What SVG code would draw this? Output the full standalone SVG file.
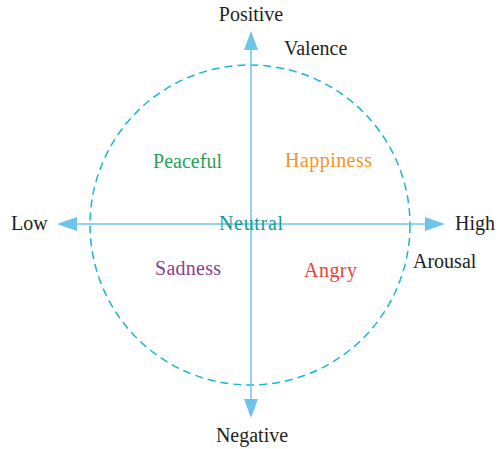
<svg xmlns="http://www.w3.org/2000/svg" width="500" height="449" viewBox="0 0 500 449">
<style>
text{font-family:"Liberation Serif","DejaVu Serif",serif;font-size:20px;}
.lbl{fill:#231f20;}
.axis{stroke:#6cc4ec;stroke-width:1.5;fill:none;}
.head{fill:#6cc4ec;}
</style>
<rect width="500" height="449" fill="#ffffff"/>
<g id="circle">
<circle cx="250" cy="225" r="160" fill="none" stroke="#1cb5d4" stroke-width="1.5" stroke-dasharray="8,5"/>
</g>
<g id="connectors">
<line class="axis" x1="251" y1="46" x2="251" y2="402"/>
<line class="axis" x1="72" y1="224" x2="430" y2="224"/>
<polygon class="head" points="251,31 244,50 258,50"/>
<polygon class="head" points="251,418 244,399 258,399"/>
<polygon class="head" points="57,224 77,217 77,231"/>
<polygon class="head" points="445,224 425,217 425,231"/>
</g>
<g id="positive"><text class="lbl" x="251" y="21" text-anchor="middle">Positive</text></g>
<g id="valence"><text class="lbl" x="284" y="55">Valence</text></g>
<g id="low"><text class="lbl" x="11" y="230">Low</text></g>
<g id="high"><text class="lbl" x="455" y="230">High</text></g>
<g id="arousal"><text class="lbl" x="413" y="268">Arousal</text></g>
<g id="negative"><text class="lbl" x="252" y="442" text-anchor="middle">Negative</text></g>
<g id="peaceful"><text x="153" y="168" fill="#27a157" textLength="69">Peaceful</text></g>
<g id="happiness"><text x="285" y="167" fill="#f7941d" textLength="87">Happiness</text></g>
<g id="neutral"><text x="219" y="230" fill="#16999a" textLength="64">Neutral</text></g>
<g id="sadness"><text x="155" y="275" fill="#913a94" textLength="66">Sadness</text></g>
<g id="angry"><text x="304" y="277" fill="#ee4136" textLength="53">Angry</text></g>
</svg>
